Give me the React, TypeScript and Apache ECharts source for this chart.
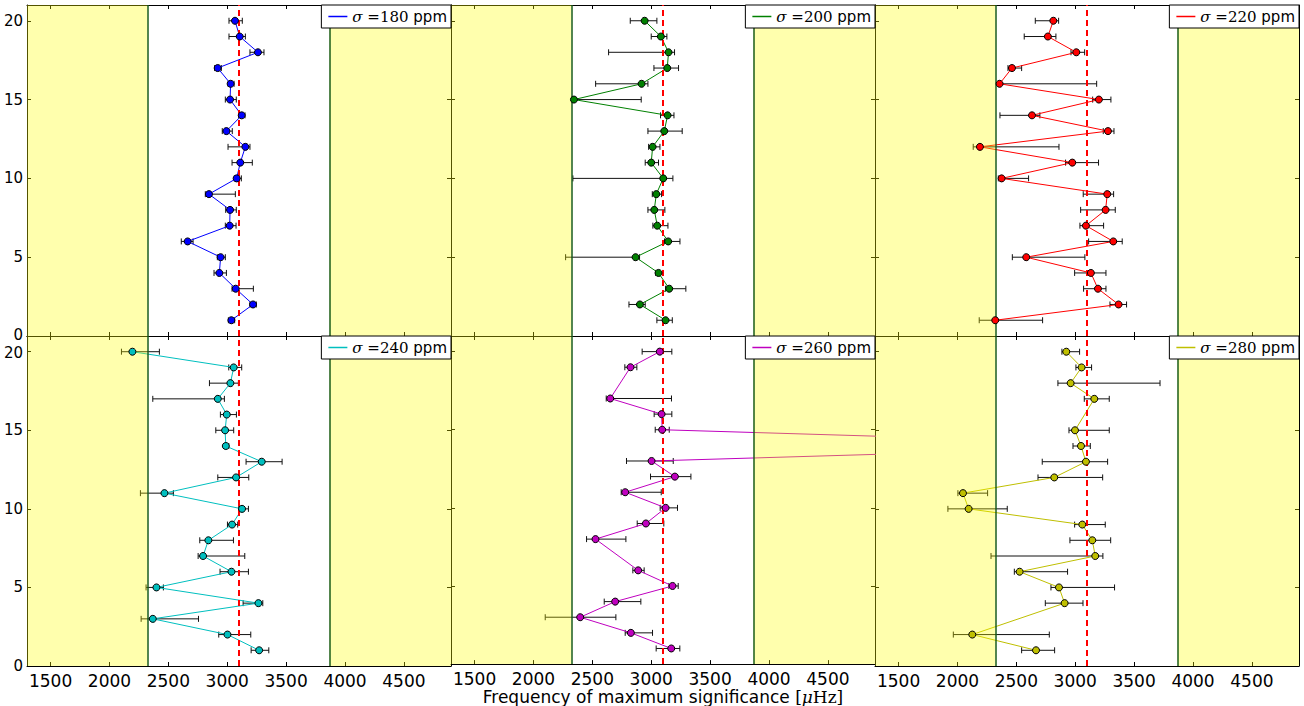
import React, { useEffect, useRef } from "react";
import * as echarts from "echarts";

// Row index of each measurement (from 20 down to 1)
const LEVELS = [20, 19, 18, 17, 16, 15, 14, 13, 12, 11, 10, 9, 8, 7, 6, 5, 4, 3, 2, 1];
const SIGMAS = [180, 200, 220, 240, 260, 280];
const COLORS = ["#0000ff", "#008000", "#ff0000", "#00bfbf", "#bf00bf", "#bfbf00"];
const X_TICKS = [1500, 2000, 2500, 3000, 3500, 4000, 4500];
const Y_TICKS = [0, 5, 10, 15, 20];
const NUMAX = 3096;
const BAND_LO = 2322;
const BAND_HI = 3870;

const F180 = [3066, 3106, 3261, 2919, 3029, 3024, 3123, 2993, 3154, 3111, 3080, 2845, 3024, 3021, 2664, 2944, 2933, 3072, 3219, 3035];
const LO180 = [3015, 3015, 3193, 2893, 3007, 2984, 3097, 2958, 3007, 3041, 3060, 2814, 2987, 2984, 2610, 2916, 2888, 3041, 3193, 3010];
const HI180 = [3128, 3154, 3312, 2950, 3058, 3077, 3151, 3043, 3193, 3213, 3120, 3069, 3077, 3075, 2710, 2984, 2993, 3222, 3247, 3063];

const F200 = [2944, 3082, 3147, 3136, 2918, 2344, 3139, 3111, 3012, 3000, 3102, 3043, 3026, 3051, 3144, 2867, 3062, 3153, 2904, 3122];
const LO200 = [2822, 3000, 2638, 3023, 2528, 2330, 3079, 2972, 2978, 2949, 2335, 3009, 2972, 3014, 3113, 2273, 3037, 3122, 2811, 3048];
const HI200 = [3048, 3133, 3198, 3232, 2972, 2915, 3193, 3263, 3074, 3062, 3184, 3088, 3116, 3142, 3244, 2901, 3099, 3294, 2949, 3179];

const F220 = [2814, 2768, 3009, 2463, 2358, 3201, 2633, 3278, 2191, 2975, 2375, 3272, 3258, 3091, 3323, 2584, 3133, 3193, 3368, 2321];
const LO220 = [2661, 2567, 2964, 2429, 2358, 3148, 2361, 3238, 2134, 2918, 2347, 3068, 3046, 3040, 3114, 2466, 2995, 3071, 3295, 2185];
const HI220 = [2859, 2836, 3080, 2545, 3182, 3303, 2700, 3329, 2862, 3198, 2604, 3326, 3340, 3241, 3399, 3082, 3261, 3261, 3436, 2723];

const F240 = [2195, 3055, 3027, 2920, 2996, 2982, 2988, 3293, 3075, 2467, 3126, 3041, 2840, 2795, 3036, 2399, 3265, 2368, 3002, 3271];
const LO240 = [2102, 3013, 2849, 2368, 2942, 2903, 2968, 3160, 2920, 2263, 3098, 3002, 2767, 2753, 2939, 2311, 3135, 2269, 2928, 3203];
const HI240 = [2424, 3123, 3095, 2976, 3078, 3055, 3013, 3466, 3183, 2543, 3180, 3089, 3053, 3149, 3180, 2458, 3302, 2756, 3200, 3353];

const F260 = [3073, 2824, null, 2652, 3088, 3093, 7500, 3003, 3201, 2779, 3122, 2955, 2527, null, 2889, 3181, 2694, 2397, 2827, 3170];
const LO260 = [2923, 2776, null, 2618, 3025, 3034, null, 2790, 2994, 2745, 3076, 2881, 2451, null, 2844, 3150, 2601, 2100, 2779, 3042];
const HI260 = [3175, 2878, null, 3172, 3175, 3153, null, 3187, 3337, 3085, 3223, 3107, 2785, null, 2940, 3229, 2912, 2700, 3011, 3243];

const F280 = [2924, 3054, 2961, 3162, null, 2998, 3049, 3091, 2822, 2047, 2095, 3060, 3145, 3170, 2528, 2862, 2910, null, 2126, 2667];
const LO280 = [2887, 3006, 2853, 3077, null, 2947, 2981, 2720, 2684, 2004, 1919, 2995, 2955, 2285, 2483, 2794, 2746, null, 1965, 2545];
const HI280 = [3037, 3139, 3720, 3289, null, 3289, 3128, 3275, 3233, 2256, 2423, 3255, 3301, 3235, 2935, 3334, 3066, null, 2780, 2825];

const FREQS = [F180, F200, F220, F240, F260, F280];
const LOWS = [LO180, LO200, LO220, LO240, LO260, LO280];
const HIGHS = [HI180, HI200, HI220, HI240, HI260, HI280];

const FONT = "'DejaVu Sans', sans-serif";
const SERIF = "'DejaVu Serif', serif";

function buildOption() {
  const colLeft = [27, 451, 875];
  const colWidth = 424;
  const rowTop = [5, 336];
  const rowHeight = [331, 330];
  const legendRight = [853, 429, 5];

  const grid: any[] = [];
  const xAxis: any[] = [];
  const yAxis: any[] = [];
  const series: any[] = [];
  const legend: any[] = [];

  SIGMAS.forEach((s, i) => {
    const row = Math.floor(i / 3);
    const col = i % 3;
    grid.push({
      left: colLeft[col],
      top: rowTop[row],
      width: colWidth,
      height: rowHeight[row],
      containLabel: false,
    });
    const axLine = { show: true, onZero: false, lineStyle: { color: "#000", width: 1 } };
    const tickX = { show: true, inside: true, length: 4, customValues: X_TICKS, lineStyle: { color: "#000", width: 1 } };
    const tickY = { show: true, inside: true, length: 4, customValues: Y_TICKS, lineStyle: { color: "#000", width: 1 } };
    xAxis.push({
      type: "value",
      gridIndex: i,
      position: "bottom",
      min: 1300,
      max: 4900,
      axisLine: axLine,
      axisTick: tickX,
      splitLine: { show: false },
      axisLabel: {
        show: row === 1,
        customValues: X_TICKS,
        formatter: (v: number) => String(v),
        fontSize: 17,
        color: "#000",
        fontFamily: FONT,
        margin: 6,
      },
      ...(i === 4
        ? {
            name: "{a|Frequency of maximum significance }{b|[}{c|μ}{b|Hz]}",
            nameLocation: "middle",
            nameGap: 20,
            nameTextStyle: {
              rich: {
                a: { fontSize: 17, fontFamily: FONT, color: "#000" },
                b: { fontSize: 17, fontFamily: SERIF, color: "#000" },
                c: { fontSize: 17, fontFamily: SERIF, fontStyle: "italic", color: "#000" },
              },
            },
          }
        : {}),
    });
    xAxis.push({
      type: "value",
      gridIndex: i,
      position: "top",
      min: 1300,
      max: 4900,
      axisLine: axLine,
      axisTick: tickX,
      splitLine: { show: false },
      axisLabel: { show: false },
    });
    yAxis.push({
      type: "value",
      gridIndex: i,
      position: "left",
      min: 0,
      max: 21,
      axisLine: axLine,
      axisTick: tickY,
      splitLine: { show: false },
      axisLabel: {
        show: col === 0,
        customValues: Y_TICKS,
        formatter: (v: number) => {
          if (row === 0 && v === 0) return `{u|${v}}`;
          if (row === 1 && v === 20) return `{d|${v}}`;
          return `{n|${v}}`;
        },
        color: "#000",
        margin: 4,
        rich: {
          n: { fontSize: 15, fontFamily: FONT, color: "#000" },
          u: { fontSize: 15, fontFamily: FONT, color: "#000", padding: [0, 0, 3, 0] },
          d: { fontSize: 15, fontFamily: FONT, color: "#000", padding: [3, 0, 0, 0] },
        },
      },
    });
    yAxis.push({
      type: "value",
      gridIndex: i,
      position: "right",
      min: 0,
      max: 21,
      axisLine: axLine,
      axisTick: tickY,
      splitLine: { show: false },
      axisLabel: { show: false },
    });

    const f = FREQS[i];
    const lo = LOWS[i];
    const hi = HIGHS[i];
    const pts: number[][] = [];
    const errs: number[][] = [];
    LEVELS.forEach((y, k) => {
      if (f[k] != null) pts.push([f[k] as number, y]);
      if (lo[k] != null && hi[k] != null) errs.push([y, lo[k] as number, hi[k] as number]);
    });
    const name = `σ =${s} ppm`;
    const color = COLORS[i];

    series.push({
      type: "custom",
      xAxisIndex: 2 * i,
      yAxisIndex: 2 * i,
      clip: true,
      z: 2,
      silent: true,
      encode: { x: [1, 2], y: 0 },
      data: errs,
      renderItem: (params: any, api: any) => {
        const y = api.value(0);
        const p1 = api.coord([api.value(1), y]);
        const p2 = api.coord([api.value(2), y]);
        const h = 3;
        const st = { stroke: "#111", lineWidth: 1 };
        return {
          type: "group",
          children: [
            { type: "line", shape: { x1: p1[0], y1: p1[1], x2: p2[0], y2: p2[1] }, style: st },
            { type: "line", shape: { x1: p1[0], y1: p1[1] - h, x2: p1[0], y2: p1[1] + h }, style: st },
            { type: "line", shape: { x1: p2[0], y1: p2[1] - h, x2: p2[0], y2: p2[1] + h }, style: st },
          ],
        };
      },
    });

    series.push({
      name,
      type: "line",
      xAxisIndex: 2 * i,
      yAxisIndex: 2 * i,
      data: pts,
      showSymbol: false,
      symbol: "none",
      clip: true,
      z: 2,
      color,
      lineStyle: { color, width: 1 },
      markArea: {
        silent: true,
        z: 3,
        itemStyle: { color: "rgba(255,255,0,0.32)" },
        data: [
          [{ xAxis: 1300 }, { xAxis: BAND_LO }],
          [{ xAxis: BAND_HI }, { xAxis: 4900 }],
        ],
      },
      markLine: {
        silent: true,
        z: 3,
        symbol: "none",
        label: { show: false },
        data: [
          { xAxis: BAND_LO, lineStyle: { color: "#1a5c1a", width: 1.5, type: "solid" } },
          { xAxis: BAND_HI, lineStyle: { color: "#1a5c1a", width: 1.5, type: "solid" } },
          { xAxis: NUMAX, lineStyle: { color: "#ff0000", width: 2, type: [6, 4] } },
        ],
      },
    });

    series.push({
      type: "scatter",
      xAxisIndex: 2 * i,
      yAxisIndex: 2 * i,
      data: pts,
      symbol: "circle",
      symbolSize: 7,
      clip: true,
      z: 5,
      itemStyle: { color, borderColor: "#000", borderWidth: 1, opacity: 1 },
    });

    legend.push({
      data: [name],
      right: legendRight[col],
      top: rowTop[row],
      orient: "horizontal",
      backgroundColor: "#fff",
      borderColor: "#000",
      borderWidth: 1,
      borderRadius: 0,
      padding: [4, 4, 4, 7],
      icon: "rect",
      itemWidth: 19,
      itemHeight: 1.5,
      itemGap: 5,
      selectedMode: false,
      formatter: (n: string) => {
        const m = n.match(/\d+/);
        return `{s|σ}{m| =${m ? m[0] : ""}} ppm`;
      },
      textStyle: {
        fontSize: 15,
        color: "#000",
        fontFamily: FONT,
        rich: {
          s: { fontSize: 15, fontFamily: SERIF, fontStyle: "italic", color: "#000" },
          m: { fontSize: 15, fontFamily: SERIF, color: "#000" },
        },
      },
    });
  });

  return {
    animation: false,
    backgroundColor: "#fff",
    grid,
    xAxis,
    yAxis,
    legend,
    series,
  };
}

export default function App() {
  const ref = useRef<HTMLDivElement>(null);
  useEffect(() => {
    if (!ref.current) return;
    const chart = echarts.init(ref.current, undefined, { renderer: "svg" });
    chart.setOption(buildOption() as any);
    return () => chart.dispose();
  }, []);
  return (
    <div
      ref={ref}
      style={{ position: "fixed", left: 0, top: 0, width: 1304, height: 706, background: "#fff" }}
    />
  );
}
